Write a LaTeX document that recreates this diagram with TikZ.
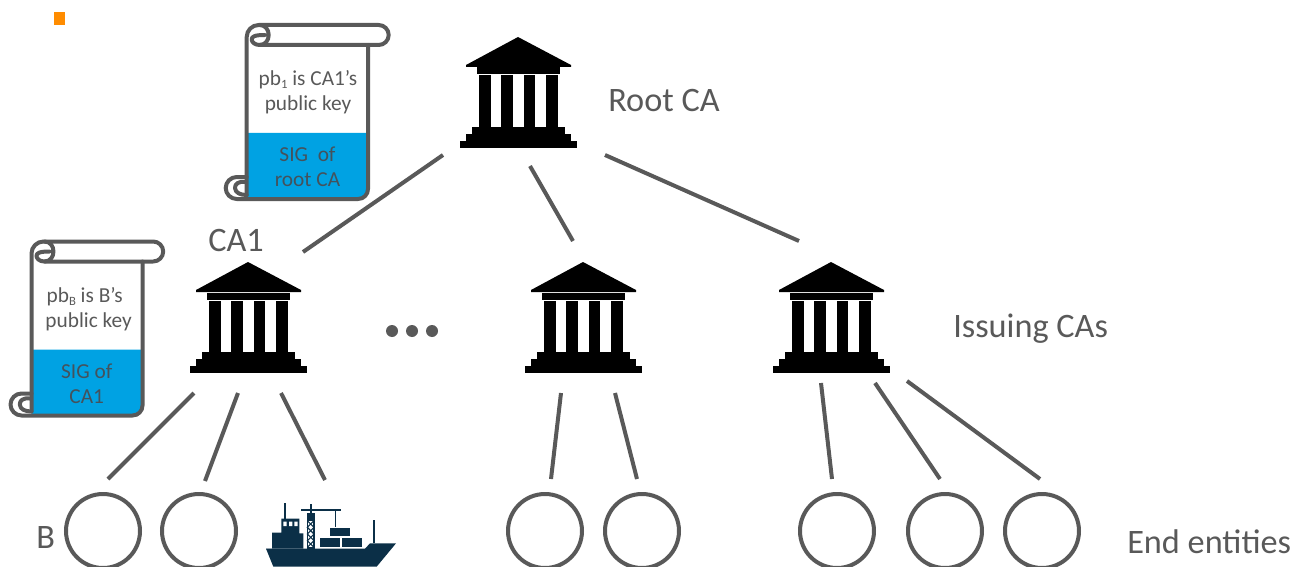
\documentclass[tikz,border=0pt]{standalone}
\usepackage{fontspec}
\setmainfont{Carlito}
\definecolor{ink}{HTML}{595959}
\definecolor{sigtext}{HTML}{44525C}
\definecolor{sigblue}{HTML}{00A2E3}
\definecolor{navy}{HTML}{0B2F47}
\definecolor{markorange}{HTML}{FF8C00}
\newcommand{\lowsub}[1]{\raisebox{-2.2pt}{\fontsize{9.5}{10}\selectfont #1}}
\tikzset{
  x=0.75pt,y=-0.75pt,
  link/.style={draw=ink,line width=3pt},
  entity/.style={circle,draw=ink,line width=3pt,minimum size=55.5pt,inner sep=0pt,fill=white},
  biglabel/.style={text=ink,font=\fontsize{25.7}{30}\selectfont,inner sep=0pt},
  smalllabel/.style={text=ink,font=\fontsize{16}{18.8}\selectfont,inner sep=0pt,align=center},
  siglabel/.style={smalllabel,text=sigtext},
  scrollline/.style={draw=ink,line width=3pt,line join=round,line cap=round},
  temple/.pic={
    \fill[black] (0,0) -- (53,28) -- (53,30) -- (-52,30) -- (-52,28) -- cycle;
    \fill[black] (-41,30.5) rectangle (42,37.5);
    \foreach \a in {-39,-16.8,5.5,28}{\fill[black] (\a,38.5) rectangle (\a+11.6,90);}
    \fill[black] (-46.5,90) rectangle (47,98);
    \fill[black] (-52.5,97) rectangle (53,105);
    \fill[black] (-58,104) rectangle (59,111);
  },
  scrollpic/.pic={
    % origin = top-left of rolled edge; \scw = body width
    \fill[sigblue] (0,108) -- (\scw,108) -- (\scw,164)
      .. controls (\scw,169.5) and (\scw-4.3,174) .. (\scw-10,174) -- (0,174) -- cycle;
    % body and bottom roll
    \draw[scrollline] (\scw,20) -- (\scw,164)
      .. controls (\scw,169.5) and (\scw-4.3,174) .. (\scw-10,174) -- (-10,174)
      .. controls (-16,174) and (-21,169) .. (-21,163)
      .. controls (-21,157) and (-16,152) .. (-10,152) -- (0,152);
    \draw[scrollline] (-1.7,157) .. controls (-8,156) and (-12,159) .. (-11.7,163)
      .. controls (-11.5,168) and (-6,170) .. (0,170);
    % left edge, top roll
    \draw[scrollline] (0,170) -- (0,12)
      .. controls (0,5.4) and (5.4,0) .. (12,0) -- (\scw+10.7,0)
      .. controls (\scw+16.2,0) and (\scw+20.7,4.5) .. (\scw+20.7,10)
      .. controls (\scw+20.7,15.5) and (\scw+16.2,20) .. (\scw+10.7,20) -- (13,20);
    % top curl
    \draw[scrollline] (13,0) .. controls (18.5,0) and (22,4.5) .. (22,10)
      .. controls (22,15.5) and (18.5,20) .. (13,20)
      .. controls (8,20) and (5,17) .. (5,14.5)
      .. controls (5,11.5) and (8,10) .. (18,10);
  },
}
\begin{document}
\begin{tikzpicture}
\useasboundingbox (0,0) rectangle (1304,567);
\fill[markorange] (54,12) rectangle (65,25);

% scrolls
\def\scw{121.3}
\pic at (246.7,25) {scrollpic};
\def\scw{111}
\pic at (31.5,241.5) {scrollpic};
\node[smalllabel] (t1) at (308,92.5) {pb\lowsub{1} is CA1’s\\public key};
\node[siglabel] (s1) at (307.5,167) {SIG~ of\\root CA};
\node[smalllabel] (t2) at (88.7,309) {pb\lowsub{B} is B’s\rule{6pt}{0pt}\\public key};
\node[siglabel] (s2) at (86.7,384) {SIG of\\CA1};

% temples
\pic at (518,37) {temple};
\pic at (248,262) {temple};
\pic at (583,262) {temple};
\pic at (831,262) {temple};

% labels
\node[biglabel,anchor=west] (root) at (608,101) {Root CA};
\node[biglabel,anchor=west] (ca1) at (208,240) {CA1};
\node[biglabel,anchor=west] (iss) at (953,329) {Issuing CAs};
\node[biglabel,anchor=west] (end) at (1127,542) {End entities};
\node[biglabel,anchor=west] (b) at (36,538) {B};

% dots
\foreach \x in {392,412,432}{\fill[ink] (\x,331) circle[radius=6];}

% end entities
\node[entity] (e1) at (103,531) {};
\node[entity] (e2) at (199,531) {};
\node[entity] (e3) at (545,531) {};
\node[entity] (e4) at (642,531) {};
\node[entity] (e5) at (837,531) {};
\node[entity] (e6) at (945,531) {};
\node[entity] (e7) at (1042,531) {};

% connector ends
\coordinate (ra) at (443,155); \coordinate (ca) at (303,252);
\coordinate (rb) at (530,166); \coordinate (cb) at (573,241);
\coordinate (rc) at (605,155); \coordinate (cc) at (799,241);
\coordinate (a1) at (194,393); \coordinate (a1e) at (108,479);
\coordinate (a2) at (238,393); \coordinate (a2e) at (205,481);
\coordinate (a3) at (281,393); \coordinate (a3e) at (325,480);
\coordinate (b1) at (561,393); \coordinate (b1e) at (551,479);
\coordinate (b2) at (615,393); \coordinate (b2e) at (637,479);
\coordinate (c1) at (821,383); \coordinate (c1e) at (832,479);
\coordinate (c2) at (875,383); \coordinate (c2e) at (940,479);
\coordinate (c3) at (907,381); \coordinate (c3e) at (1040,479);
\foreach \p/\q in {ra/ca,rb/cb,rc/cc,a1/a1e,a2/a2e,a3/a3e,b1/b1e,b2/b2e,c1/c1e,c2/c2e,c3/c3e}
  {\draw[link] (\p) -- (\q);}

% ship
\begin{scope}[shift={(250,490)},x=0.25pt,y=-0.25pt]
  \fill[navy] (48,176) -- (160,176) -- (160,130) -- (148,130) -- (148,86) -- (94,86) -- (94,128) -- (66,128) -- (66,176) -- cycle;
  \fill[navy] (48,176) -- (345,176) -- (360,160) -- (438,160) -- (380,230) -- (70,230) -- cycle;
  \fill[white] (100,95) rectangle (110,108) (117,95) rectangle (127,108) (133,95) rectangle (143,108);
  \fill[navy] (103,38) rectangle (108,86);
  \fill[navy] (369,90) rectangle (374,160);
  \fill[navy] (170,68) rectangle (194,178);
  \fill[navy] (179,42) rectangle (187,68);
  \fill[white] (174,92) rectangle (190,172);
  \draw[navy,line width=0.8pt] (172,92) -- (192,112) -- (172,132) -- (192,152) -- (172,172);
  \draw[navy,line width=0.8pt] (192,92) -- (172,112) -- (192,132) -- (172,152) -- (192,172);
  \draw[navy,line width=1.1pt] (172,92) -- (172,176) (192,92) -- (192,176);
  \fill[navy] (153,56) rectangle (272,63);
  \fill[navy] (254,60) rectangle (259,110);
  \fill[navy] (241,113) rectangle (301,139);
  \fill[navy] (209,145) rectangle (269,171);
  \fill[navy] (275,145) rectangle (335,171);
\end{scope}
\end{tikzpicture}
\end{document}
